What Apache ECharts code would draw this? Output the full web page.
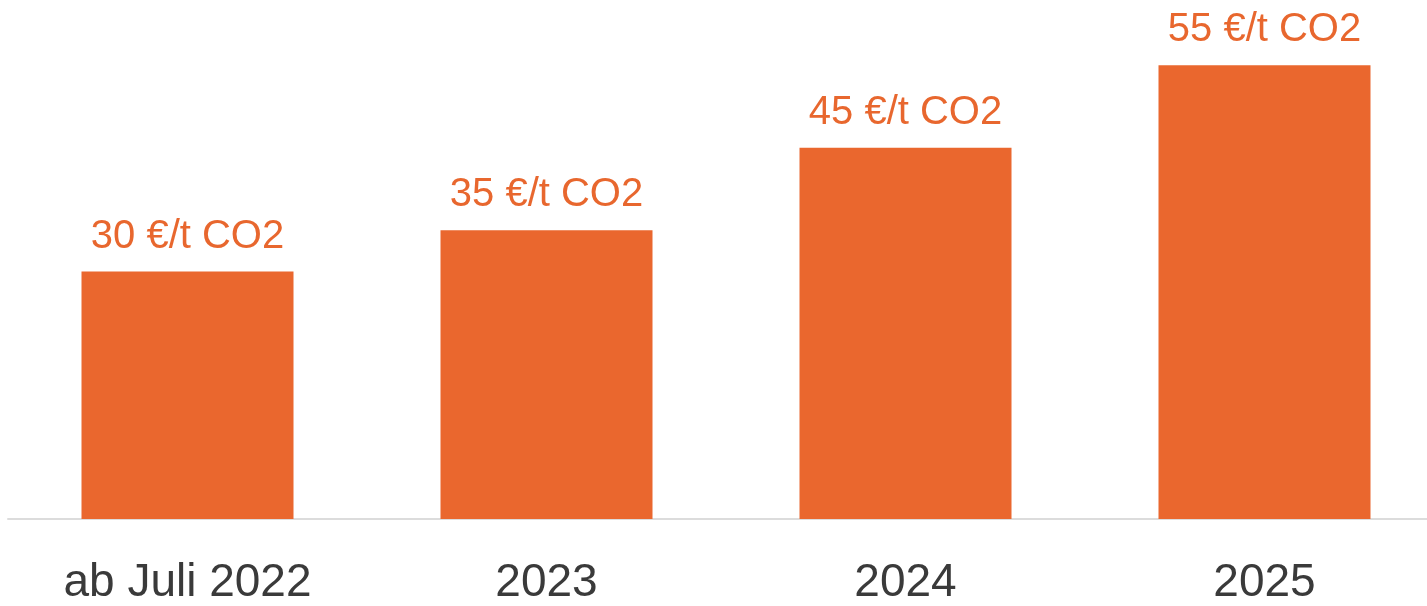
<!DOCTYPE html>
<html>
<head>
<meta charset="utf-8">
<script src="https://cdn.jsdelivr.net/npm/echarts@6/dist/echarts.min.js"></script>
<style>
html,body{margin:0;padding:0;background:#fff;overflow:hidden;width:1427px;height:606px;}
#chart{width:1444px;height:606px;}
</style>
</head>
<body>
<div id="chart"></div>
<script>
const categories = ['ab Juli 2022', '2023', '2024', '2025'];
const prices = [30, 35, 45, 55];
const unitSuffix = ' €/t CO2';

const chart = echarts.init(document.getElementById('chart'), null, {renderer: 'canvas'});
chart.setOption({
  animation: false,
  backgroundColor: '#ffffff',
  grid: {left: 8, right: 0, top: 24, bottom: 86, containLabel: false},
  xAxis: {
    type: 'category',
    data: categories,
    axisLine: {show: true, lineStyle: {color: '#dcdcdc', width: 2}},
    axisTick: {show: false},
    axisLabel: {
      color: '#3a3a3a',
      fontFamily: 'Liberation Sans, Arial, sans-serif',
      fontSize: 46,
      margin: 41
    }
  },
  yAxis: {
    type: 'value',
    min: 0,
    max: 60,
    show: false,
    splitLine: {show: false}
  },
  series: [{
    type: 'bar',
    data: prices,
    barWidth: 212,
    itemStyle: {color: '#EA672E'},
    label: {
      show: true,
      position: 'top',
      distance: 15,
      color: '#E8672E',
      fontFamily: 'Liberation Sans, Arial, sans-serif',
      fontSize: 40,
      formatter: p => p.value + unitSuffix
    }
  }]
});
</script>
</body>
</html>
